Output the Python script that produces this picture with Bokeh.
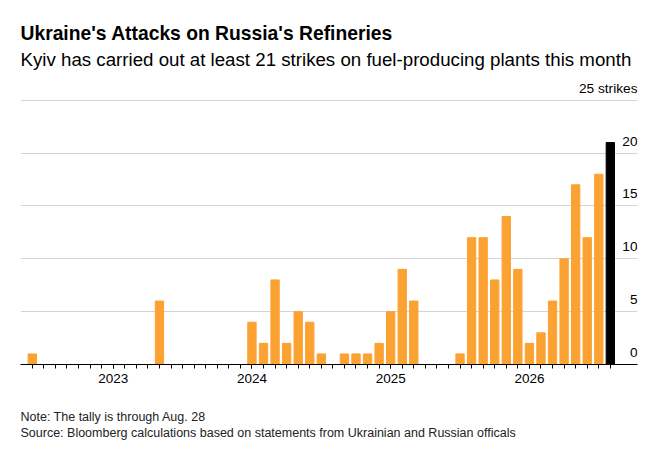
from bokeh.plotting import figure
from bokeh.models import FixedTicker, Title, ColumnDataSource
from bokeh.embed import file_html
from bokeh.resources import INLINE
from bokeh.core.properties import value

# Monthly strikes, Jun 2022 .. Aug 2026
months = [
    "2022-06", "2022-07", "2022-08", "2022-09", "2022-10", "2022-11", "2022-12",
    "2023-01", "2023-02", "2023-03", "2023-04", "2023-05", "2023-06", "2023-07",
    "2023-08", "2023-09", "2023-10", "2023-11", "2023-12",
    "2024-01", "2024-02", "2024-03", "2024-04", "2024-05", "2024-06", "2024-07",
    "2024-08", "2024-09", "2024-10", "2024-11", "2024-12",
    "2025-01", "2025-02", "2025-03", "2025-04", "2025-05", "2025-06", "2025-07",
    "2025-08", "2025-09", "2025-10", "2025-11", "2025-12",
    "2026-01", "2026-02", "2026-03", "2026-04", "2026-05", "2026-06", "2026-07",
    "2026-08",
]
strikes = [
    1, 0, 0, 0, 0, 0, 0,
    0, 0, 0, 0, 6, 0, 0, 0, 0, 0, 0, 0,
    4, 2, 8, 2, 5, 4, 1, 0, 1, 1, 1, 2,
    5, 9, 6, 0, 0, 0, 1, 12, 12, 8, 14, 9,
    2, 3, 6, 10, 17, 12, 18, 21,
]
year_labels = ["2023", "2024", "2025", "2026"]
y_ticks = [0, 5, 10, 15, 20, 25]
y_tick_labels = ["0", "5", "10", "15", "20", "25 strikes"]

title = "Ukraine's Attacks on Russia's Refineries"
subtitle = "Kyiv has carried out at least 21 strikes on fuel-producing plants this month"
note = "Note: The tally is through Aug. 28"
source = "Source: Bloomberg calculations based on statements from Ukrainian and Russian officals"

ORANGE = "#FBA232"
FONT = "Liberation Sans"

idx = list(range(len(months)))
colors = [ORANGE] * (len(months) - 1) + ["#000000"]
year_idx = [months.index(y + "-01") for y in year_labels]

x_start, x_end = -1.02, 52.35
y_end = 27.34

p = figure(width=659, height=449, output_backend="svg", toolbar_location=None,
           title=None, x_range=(x_start, x_end), y_range=(0, y_end),
           y_axis_location=None, min_border_left=20, min_border_right=22,
           min_border_top=75, min_border_bottom=85)
p.outline_line_color = None
p.background_fill_color = "white"
p.border_fill_color = "white"

src = ColumnDataSource(dict(x=idx, top=strikes, color=colors))
p.vbar(x="x", top="top", width=0.72, color="color", source=src)

# grid
p.xgrid.visible = False
p.ygrid.ticker = FixedTicker(ticks=y_ticks[1:])
p.ygrid.grid_line_color = "#d4d4d4"
p.ygrid.grid_line_width = 1

# x axis
ax = p.xaxis[0]
ax.ticker = FixedTicker(ticks=year_idx, minor_ticks=idx)
ax.major_label_overrides = {i: lab for i, lab in zip(year_idx, year_labels)}
ax.axis_line_color = "black"
ax.axis_line_width = 1
ax.major_tick_line_color = "black"
ax.minor_tick_line_color = "black"
ax.major_tick_in = 0
ax.minor_tick_in = 0
ax.major_tick_out = 4
ax.minor_tick_out = 4
ax.major_label_standoff = 5
ax.major_label_text_font = FONT
ax.major_label_text_font_size = "13.5px"
ax.major_label_text_color = "black"

# y labels above gridlines on right
p.text(x=[x_end] * len(y_ticks), y=y_ticks, text=y_tick_labels,
       text_align="right", text_baseline="alphabetic", y_offset=-12,
       text_font=value(FONT), text_font_size="13.7px", text_color="black")

# titles (first added = nearest the plot)
p.add_layout(Title(text=subtitle, align="left", text_font=FONT,
                   text_font_size="18.7px", text_font_style="normal",
                   text_color="black", standoff=11), "above")
p.add_layout(Title(text=title, align="left", text_font=FONT,
                   text_font_size="19.3px", text_font_style="bold",
                   text_color="black", standoff=-5), "above")
p.add_layout(Title(text="\n" + note + "\n" + source, align="left", text_font=FONT,
                   text_font_size="12.5px", text_font_style="normal",
                   text_line_height=1.12,
                   text_color="#222222", standoff=15), "below")

open("out.html", "w").write(file_html(p, INLINE))
